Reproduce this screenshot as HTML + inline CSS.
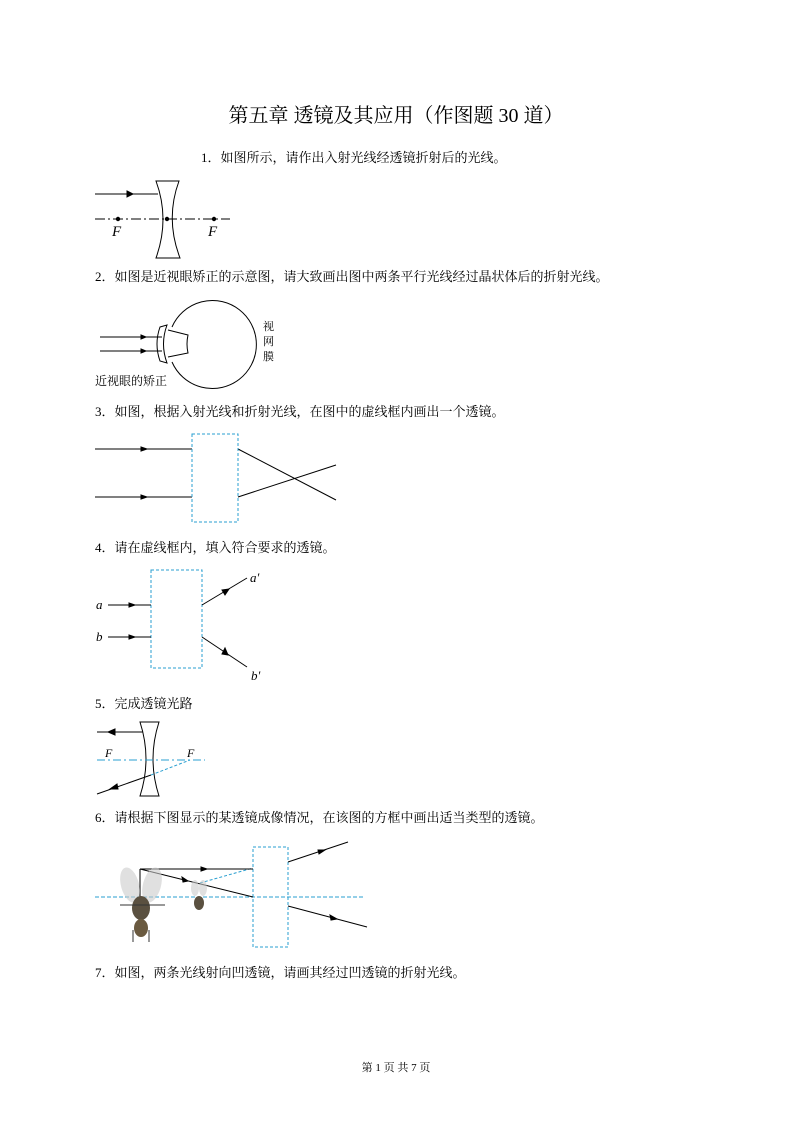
<!DOCTYPE html>
<html><head><meta charset="utf-8"><style>
body{margin:0;background:#fff}
svg{display:block}
text{font-family:"Liberation Serif","Noto Serif CJK SC",serif;fill:#000}
.it{font-style:italic}
</style></head><body>
<svg width="793" height="1122" viewBox="0 0 793 1122" xmlns="http://www.w3.org/2000/svg">
<text x="396" y="122" font-size="20" text-anchor="middle">第五章 透镜及其应用（作图题 30 道）</text>
<text x="201" y="162" font-size="13">1．如图所示，请作出入射光线经透镜折射后的光线。</text>
<text x="95" y="281" font-size="13">2．如图是近视眼矫正的示意图，请大致画出图中两条平行光线经过晶状体后的折射光线。</text>
<text x="95" y="416" font-size="13">3．如图，根据入射光线和折射光线，在图中的虚线框内画出一个透镜。</text>
<text x="95" y="552" font-size="13">4．请在虚线框内，填入符合要求的透镜。</text>
<text x="95" y="708" font-size="13">5．完成透镜光路</text>
<text x="95" y="822" font-size="13">6．请根据下图显示的某透镜成像情况，在该图的方框中画出适当类型的透镜。</text>
<text x="95" y="977" font-size="13">7．如图，两条光线射向凹透镜，请画其经过凹透镜的折射光线。</text>
<text x="396" y="1071" font-size="11" text-anchor="middle">第 1 页 共 7 页</text>

<!-- Q1 -->
<g stroke="#000" fill="none" stroke-width="1">
<line x1="95" y1="194" x2="158" y2="194"/><path d="M127,191 L133,194 L127,197Z" fill="#000"/>
<path d="M156,181 L179,181 Q165,219 180,258 L156,258 Q170,219 156,181Z"/>
<line x1="95" y1="219" x2="230" y2="219" stroke-dasharray="10,3,2,3"/>
</g>
<circle cx="118" cy="219" r="2.2"/><circle cx="167" cy="219" r="2.2"/><circle cx="214" cy="219" r="2.2"/>
<text x="112" y="236" font-size="15" class="it">F</text><text x="208" y="236" font-size="15" class="it">F</text>

<!-- Q2 -->
<g stroke="#000" fill="none" stroke-width="1">
<path d="M172,327 A44,44 0 1 1 172,362"/>
<path d="M168,330 L188,335 Q186,344 188,353 L168,357"/>
<path d="M160,327 L167,325 Q160,344 167,363 L160,361 Q154,344 160,327Z"/>
<line x1="100" y1="337" x2="162" y2="337"/><line x1="100" y1="351" x2="162" y2="351"/>
<path d="M141,335 L146,337 L141,339Z" fill="#000"/><path d="M141,349 L146,351 L141,353Z" fill="#000"/>
</g>
<text x="95" y="385" font-size="12">近视眼的矫正</text>
<text x="263" y="330" font-size="11">视</text><text x="263" y="345" font-size="11">网</text><text x="263" y="360" font-size="11">膜</text>

<!-- Q3 -->
<g stroke="#000" fill="none">
<line x1="95" y1="449" x2="192" y2="449"/><line x1="95" y1="497" x2="192" y2="497"/>
<path d="M141,447 L147,449 L141,451Z" fill="#000"/><path d="M141,495 L147,497 L141,499Z" fill="#000"/>
<line x1="238" y1="449" x2="336" y2="500"/><line x1="238" y1="497" x2="336" y2="465"/>
</g>
<rect x="192" y="434" width="46" height="88" fill="none" stroke="#2a9fd0" stroke-dasharray="3,2"/>

<!-- Q4 -->
<rect x="151" y="570" width="51" height="98" fill="none" stroke="#2a9fd0" stroke-dasharray="3,2"/>
<g stroke="#000" fill="none">
<line x1="108" y1="605" x2="151" y2="605"/><line x1="108" y1="637" x2="151" y2="637"/>
<path d="M129,603 L135,605 L129,607Z" fill="#000"/><path d="M129,635 L135,637 L129,639Z" fill="#000"/>
<line x1="202" y1="605" x2="247" y2="578"/><line x1="202" y1="637" x2="247" y2="667"/>
<path d="M222,590 L229,589 L225,595Z" fill="#000"/><path d="M222,654 L228,655 L225,648Z" fill="#000"/>
</g>
<text x="96" y="609" font-size="13" class="it">a</text><text x="96" y="641" font-size="13" class="it">b</text>
<text x="250" y="582" font-size="13" class="it">a′</text><text x="251" y="680" font-size="13" class="it">b′</text>

<!-- Q5 -->
<g stroke="#000" fill="none">
<path d="M140,722 L159,722 Q147,759 159,796 L140,796 Q152,759 140,722Z"/>
<line x1="97" y1="732" x2="143" y2="732"/><path d="M115,729 L108,732 L115,735Z" fill="#000"/>
<line x1="151" y1="775" x2="97" y2="794"/><path d="M117,784 L110,789 L118,789Z" fill="#000"/>
</g>
<line x1="97" y1="760" x2="205" y2="760" stroke="#2a9fd0" stroke-dasharray="8,3,2,3"/>
<line x1="151" y1="775" x2="190" y2="760" stroke="#2a9fd0" stroke-dasharray="3,2"/>
<text x="105" y="757" font-size="12" class="it">F</text><text x="187" y="757" font-size="12" class="it">F</text>

<!-- Q6 -->
<line x1="95" y1="897" x2="363" y2="897" stroke="#2a9fd0" stroke-dasharray="4,2"/>
<rect x="253" y="847" width="35" height="100" fill="none" stroke="#2a9fd0" stroke-dasharray="3,2"/>
<line x1="200" y1="883" x2="253" y2="868" stroke="#2a9fd0" stroke-dasharray="3,2"/>
<g stroke="#000" fill="none">
<line x1="140" y1="869" x2="253" y2="869"/><line x1="140" y1="869" x2="253" y2="897"/><line x1="140" y1="869" x2="140" y2="905"/>
<path d="M201,867 L207,869 L201,871Z" fill="#000"/>
<path d="M182,877 L188,881 L183,882Z" fill="#000"/>
<line x1="288" y1="862" x2="348" y2="842"/><line x1="288" y1="906" x2="367" y2="927"/>
<path d="M318,850 L325,850 L319,854Z" fill="#000"/>
<path d="M330,915 L337,919 L331,920Z" fill="#000"/>
</g>
<g>
<ellipse cx="130" cy="885" rx="9" ry="18" fill="#ccc" opacity=".6" transform="rotate(-15 130 885)"/>
<ellipse cx="152" cy="885" rx="9" ry="18" fill="#ccc" opacity=".6" transform="rotate(15 152 885)"/>
<ellipse cx="141" cy="908" rx="9" ry="12" fill="#5a5040"/>
<ellipse cx="141" cy="928" rx="7" ry="9" fill="#6a5a40"/>
<line x1="120" y1="905" x2="165" y2="905" stroke="#333"/>
<line x1="133" y1="930" x2="133" y2="942" stroke="#333"/><line x1="149" y1="930" x2="149" y2="942" stroke="#333"/>
<ellipse cx="195" cy="888" rx="4" ry="8" fill="#ccc" opacity=".6"/><ellipse cx="203" cy="888" rx="4" ry="8" fill="#ccc" opacity=".6"/>
<ellipse cx="199" cy="903" rx="5" ry="7" fill="#5a5040"/>
</g>
</svg>
</body></html>
